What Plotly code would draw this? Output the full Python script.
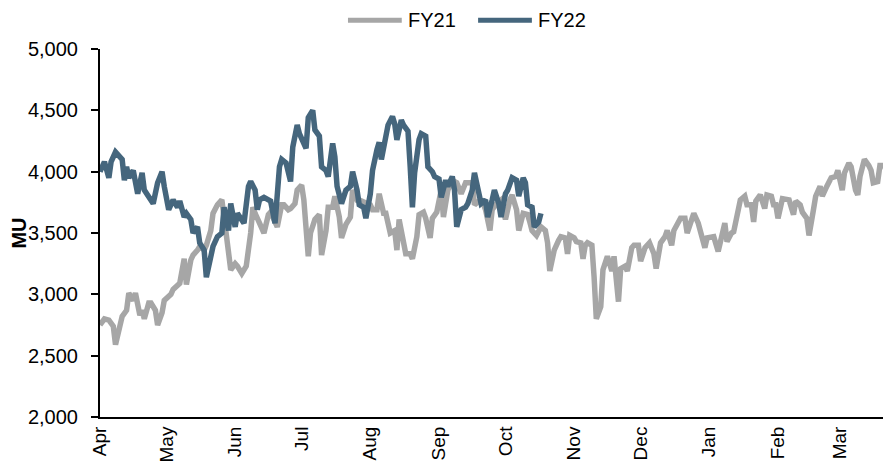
import pandas as pd
import plotly.graph_objects as go

# Daily demand (MU) through the financial year, Apr -> Mar
FY_START = "2020-04-01"
MONTHS = ["Apr", "May", "Jun", "Jul", "Aug", "Sep", "Oct", "Nov", "Dec", "Jan", "Feb", "Mar"]

# day of the financial year (0 = 1 Apr) and value
fy21_day = [0, 2, 4, 6, 7, 9, 10, 12, 13, 15,
            16, 18, 19, 20, 22, 23, 25, 26, 28, 29,
            32, 33, 35, 36, 38, 39, 41, 42, 44, 45,
            47, 48, 50, 51, 53, 55, 56, 58, 59, 61,
            62, 64, 66, 68, 69, 70, 72, 74, 76, 77,
            80, 82, 83, 85, 86, 88, 89, 91, 92, 94,
            95, 97, 99, 100, 102, 103, 105, 106, 108, 109,
            111, 113, 114, 116, 117, 120, 122, 123, 125, 126,
            128, 129, 131, 133, 134, 135, 136, 138, 140, 141,
            143, 144, 146, 147, 149, 150, 152, 153, 154, 155,
            157, 159, 161, 163, 165, 168, 169, 171, 173, 174,
            176, 177, 179, 181, 183, 185, 186, 188, 189, 191,
            193, 194, 195, 197, 199, 201, 202, 203, 205, 207,
            208, 210, 211, 212, 214, 215, 217, 218, 219, 220,
            222, 223, 224, 226, 227, 229, 231, 232, 234, 235,
            237, 238, 240, 241, 243, 244, 246, 248, 250, 251,
            253, 255, 256, 258, 259, 262, 264, 265, 267, 268,
            270, 271, 273, 274, 277, 279, 281, 282, 283, 285,
            286, 288, 289, 291, 292, 294, 295, 296, 298, 300,
            301, 303, 304, 305, 306, 308, 310, 311, 313, 314,
            316, 317, 319, 320, 322, 323, 325, 326, 328, 330,
            332, 333, 335, 336, 338, 339, 341, 342, 343, 345,
            347, 348, 349, 351, 352, 354, 355, 356]
fy21_mu = [2750, 2800, 2790, 2740, 2590, 2740, 2820, 2870, 3010, 2950,
           3010, 2830, 2870, 2800, 2930, 2930, 2870, 2750, 2850, 2950,
           3000, 3040, 3080, 3090, 3290, 3080, 3280, 3320, 3360, 3390,
           3360, 3400, 3520, 3660, 3730, 3770, 3630, 3390, 3200, 3250,
           3230, 3170, 3230, 3500, 3710, 3660, 3580, 3500, 3650, 3670,
           3550, 3730, 3730, 3690, 3700, 3740, 3850, 3890, 3770, 3310,
           3500, 3610, 3650, 3320, 3520, 3710, 3710, 3800, 3630, 3460,
           3570, 3630, 3850, 3770, 3770, 3740, 3730, 3690, 3690, 3820,
           3660, 3660, 3500, 3520, 3360, 3610, 3500, 3330, 3330, 3290,
           3470, 3650, 3670, 3620, 3460, 3620, 3670, 3770, 3850, 3630,
           3850, 3930, 3910, 3820, 3910, 3910, 3730, 3760, 3740, 3690,
           3520, 3690, 3740, 3770, 3610, 3770, 3810, 3690, 3520, 3660,
           3650, 3590, 3520, 3480, 3550, 3520, 3420, 3190, 3360, 3440,
           3470, 3460, 3330, 3480, 3460, 3430, 3420, 3290, 3400, 3420,
           3400, 3140, 2800, 2900, 3200, 3310, 3190, 3310, 2940, 3210,
           3230, 3190, 3380, 3400, 3400, 3270, 3380, 3420, 3330, 3210,
           3420, 3470, 3520, 3400, 3520, 3620, 3620, 3500, 3610, 3660,
           3580, 3520, 3380, 3460, 3470, 3350, 3520, 3580, 3430, 3500,
           3510, 3690, 3770, 3800, 3730, 3730, 3590, 3760, 3810, 3700,
           3810, 3800, 3730, 3730, 3620, 3780, 3780, 3770, 3650, 3760,
           3730, 3670, 3620, 3480, 3690, 3800, 3880, 3800, 3880, 3950,
           3960, 4010, 3850, 3990, 4070, 4040, 3850, 3810, 3960, 4100,
           4050, 4010, 3910, 3920, 4050, 4050, 4000, 3670]

fy22_day = [0, 2, 4, 5, 7, 10, 11, 12, 13, 15,
            17, 19, 20, 22, 24, 26, 28, 29, 31, 33,
            35, 36, 38, 39, 41, 42, 44, 45, 47, 48,
            50, 51, 53, 55, 56, 58, 59, 61, 62, 65,
            67, 68, 70, 71, 72, 74, 77, 78, 79, 81,
            82, 84, 86, 87, 89, 90, 92, 93, 94, 96,
            97, 99, 100, 102, 103, 105, 106, 107, 109, 111,
            113, 114, 116, 117, 119, 120, 122, 123, 125, 126,
            127, 129, 130, 132, 133, 134, 136, 137, 139, 140,
            141, 142, 144, 145, 147, 148, 150, 151, 153, 154,
            156, 157, 159, 160, 161, 163, 165, 166, 168, 169,
            171, 172, 174, 175, 177, 178, 180, 181, 183, 184,
            186, 188, 189, 191, 192, 193, 195, 196, 198, 199]
fy22_mu = [4000, 4080, 3950, 4080, 4160, 4100, 3930, 4040, 3950, 4010,
           3820, 3990, 3850, 3800, 3740, 3910, 4000, 3880, 3690, 3770,
           3710, 3760, 3630, 3660, 3610, 3500, 3550, 3420, 3360, 3140,
           3280, 3390, 3470, 3500, 3710, 3520, 3740, 3550, 3660, 3580,
           3880, 3920, 3850, 3690, 3770, 3790, 3760, 3640, 3580, 4040,
           4100, 4070, 3920, 4200, 4380, 4310, 4220, 4190, 4440, 4500,
           4340, 4290, 4040, 4010, 3960, 4230, 4120, 3880, 3740, 3850,
           3880, 4000, 3850, 3730, 3710, 3620, 3820, 4010, 4180, 4240,
           4100, 4310, 4380, 4450, 4390, 4260, 4420, 4380, 4330, 4040,
           3710, 3990, 4260, 4310, 4290, 4040, 4000, 3960, 3940, 3790,
           3930, 3880, 3960, 3850, 3550, 3690, 3710, 3740, 3850, 3990,
           3850, 3740, 3770, 3630, 3770, 3850, 3740, 3630, 3820, 3850,
           3950, 3930, 3800, 3950, 3910, 3730, 3710, 3550, 3590, 3660]

GREY = "#A6A6A6"
SLATE = "#45667D"
FONT = "Liberation Sans, Arial, sans-serif"

start = pd.Timestamp(FY_START)


def to_dates(days):
    return start + pd.to_timedelta(days, unit="D")


fig = go.Figure()
fig.add_trace(go.Scatter(x=to_dates(fy21_day), y=fy21_mu, mode="lines", name="FY21",
                         line=dict(color=GREY, width=5.5), showlegend=False))
fig.add_trace(go.Scatter(x=to_dates(fy22_day), y=fy22_mu, mode="lines", name="FY22",
                         line=dict(color=SLATE, width=5.5), showlegend=False))

# legend drawn by hand so the line samples are as long as in the original
LEGEND_Y = 1.078
legend_items = [("FY21", GREY, 0.3135), ("FY22", SLATE, 0.478)]
for label, colour, x0 in legend_items:
    fig.add_shape(type="line", xref="paper", yref="paper", x0=x0, x1=x0 + 0.068,
                  y0=LEGEND_Y, y1=LEGEND_Y, line=dict(color=colour, width=5))
    fig.add_annotation(text=label, xref="paper", yref="paper", x=x0 + 0.074, y=LEGEND_Y,
                       xanchor="left", yanchor="middle", showarrow=False, borderpad=0,
                       font=dict(size=20, color="black", family=FONT))

month_starts = pd.date_range(FY_START, periods=12, freq="MS")

# the page body adds an 8px offset, so the figure is 8px smaller and margins shrink to match
fig.update_layout(
    width=883, height=462,
    margin=dict(l=92, r=0, t=41, b=53, pad=0),
    plot_bgcolor="white", paper_bgcolor="white",
    font=dict(family=FONT, size=20, color="black"),
    xaxis=dict(
        range=[start, start + pd.Timedelta(days=357)],
        tickvals=month_starts, ticktext=MONTHS, tickangle=-90,
        showgrid=False, zeroline=False, showline=True,
        linecolor="black", linewidth=2, ticks="",
        tickfont=dict(size=19), automargin=False,
    ),
    yaxis=dict(
        range=[2000, 5000], dtick=500, tickformat=",",
        showgrid=False, zeroline=False, showline=True,
        linecolor="black", linewidth=2, ticks="outside",
        ticklen=7, tickwidth=1.5, tickcolor="black",
        ticklabelstandoff=9, tickfont=dict(size=20), automargin=False,
        title=dict(text="<b>MU</b>", standoff=4, font=dict(size=20)),
    ),
)

fig.write_html("out.html")
